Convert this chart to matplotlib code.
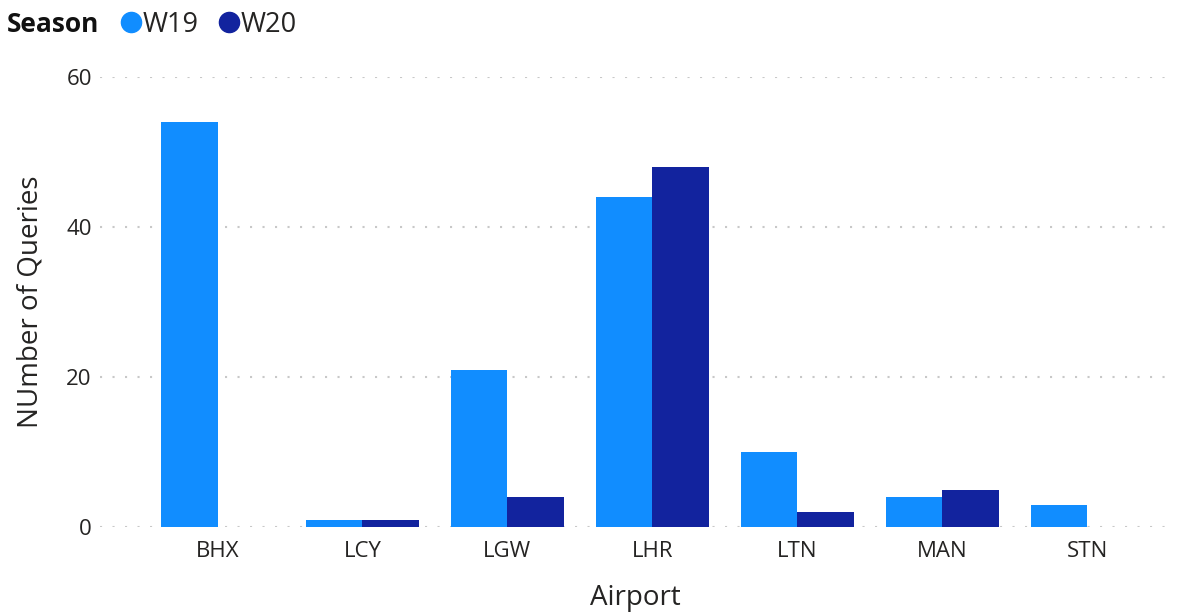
import numpy as np
import matplotlib.pyplot as plt
from matplotlib.lines import Line2D

# dados por aeroporto e temporada
airports = ['BHX', 'LCY', 'LGW', 'LHR', 'LTN', 'MAN', 'STN']
w19 = [54, 1, 21, 44, 10, 4, 3]
w20 = [0, 1, 4, 48, 2, 5, 0]
seasons = ['W19', 'W20']
colors = ['#118DFF', '#12239E']

plt.rcParams['font.family'] = ['Open Sans', 'DejaVu Sans']

fig = plt.figure(figsize=(11.78, 6.13), dpi=100)
ax = fig.add_axes([0.085, 0.140, 0.908, 0.734])

x = np.arange(len(airports))
width = 0.39
ax.bar(x - width / 2, w19, width, color=colors[0], zorder=3)
ax.bar(x + width / 2, w20, width, color=colors[1], zorder=3)

ax.set_xlim(-0.81, 6.57)
ax.set_ylim(0, 60)
ax.set_yticks([0, 20, 40, 60])
ax.set_xticks(x)
ax.set_xticklabels(airports)
ax.tick_params(axis='both', length=0, labelsize=16)
ax.tick_params(axis='x', pad=10)
ax.tick_params(axis='y', pad=6)
for lbl in ax.get_xticklabels() + ax.get_yticklabels():
    lbl.set_color('#252423')

ax.grid(axis='y', color='#C8C8C8', linestyle=(0, (1, 5)), linewidth=1.5, zorder=0)
for s in ax.spines.values():
    s.set_visible(False)

ax.set_xlabel('Airport', fontsize=20, color='#252423', labelpad=16)
ax.set_ylabel('NUmber of Queries', fontsize=20, color='#252423', labelpad=16)

# legenda no topo
fig.text(0.006, 0.96, 'Season', fontsize=19, fontweight='bold', color='#111111', va='center')
handles = [Line2D([], [], marker='o', linestyle='', markersize=14.5, color=c) for c in colors]
fig.legend(handles, seasons, loc='center left', bbox_to_anchor=(0.088, 0.96), ncol=2,
           frameon=False, fontsize=19.5, handletextpad=-0.55, columnspacing=0.1,
           borderaxespad=0, borderpad=0, labelcolor='#252423')

fig.savefig('out.png', dpi=100)
